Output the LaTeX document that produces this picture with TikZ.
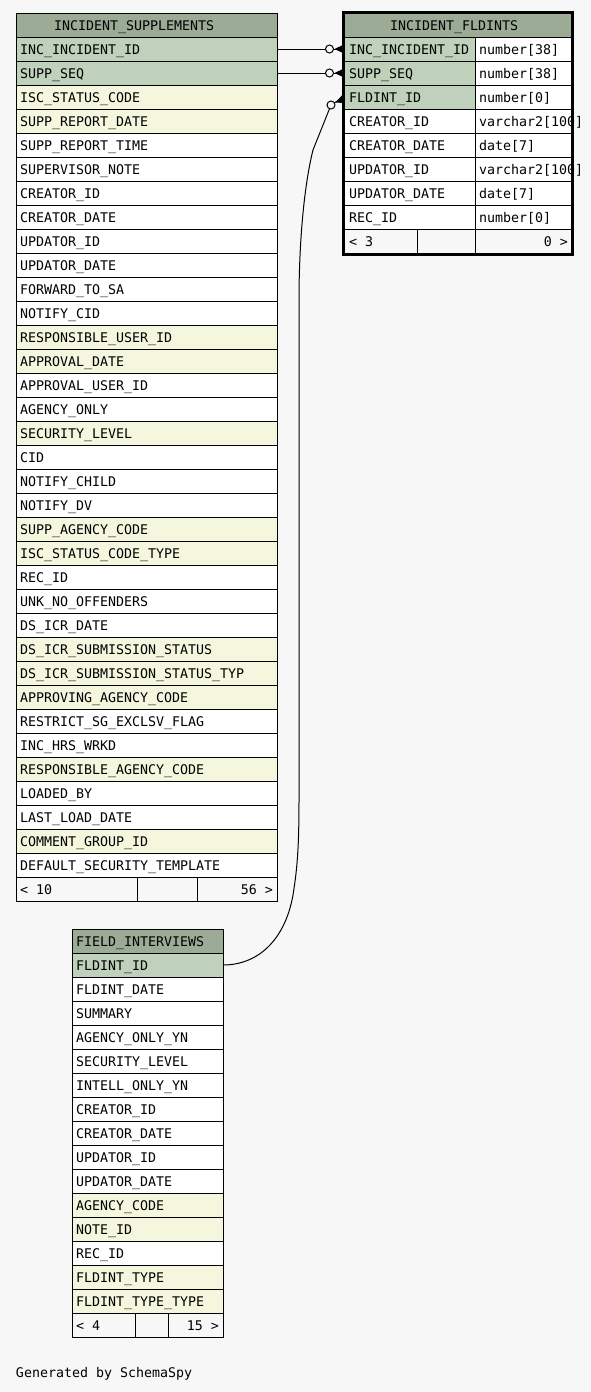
\documentclass[tikz,border=0pt]{standalone}
\usepackage{fontspec}
\newfontfamily\mono{DejaVu Sans Mono}
\usetikzlibrary{calc}
\definecolor{bgc}{RGB}{247,247,247}
\definecolor{hdr}{RGB}{156,171,150}
\definecolor{pk}{RGB}{191,209,187}
\definecolor{fk}{RGB}{244,247,222}
\definecolor{wt}{RGB}{255,255,255}
\tikzset{
  cell/.style={draw=black, line width=1pt, minimum height=24pt, inner sep=0pt, outer sep=0pt, anchor=north west},
  txt/.style={font={\mono\fontsize{13.3}{16}\selectfont}, anchor=base west, inner sep=0pt, outer sep=0pt},
  txtr/.style={txt, anchor=base east},
  circ/.style={circle, draw=black, fill=bgc, line width=1pt, minimum size=8pt, inner sep=0pt, outer sep=0pt},
  conn/.style={draw=black, line width=1pt},
}
\begin{document}
\begin{tikzpicture}[x=1pt,y=-1pt]
\fill[bgc] (0,0) rectangle (591,1392);
\useasboundingbox (0,0) rectangle (591,1392);

% ---------- INCIDENT_SUPPLEMENTS ----------
\node[cell, fill=hdr, minimum width=261pt] (sH) at (16,13) {};
\node[txt] at (54,30) {INCIDENT\_SUPPLEMENTS};
\foreach \t/\c [count=\i from 0] in {
 INC\_INCIDENT\_ID/pk, SUPP\_SEQ/pk, ISC\_STATUS\_CODE/fk, SUPP\_REPORT\_DATE/fk,
 SUPP\_REPORT\_TIME/wt, SUPERVISOR\_NOTE/wt, CREATOR\_ID/wt, CREATOR\_DATE/wt,
 UPDATOR\_ID/wt, UPDATOR\_DATE/wt, FORWARD\_TO\_SA/wt, NOTIFY\_CID/wt,
 RESPONSIBLE\_USER\_ID/fk, APPROVAL\_DATE/fk, APPROVAL\_USER\_ID/wt, AGENCY\_ONLY/wt,
 SECURITY\_LEVEL/fk, CID/wt, NOTIFY\_CHILD/wt, NOTIFY\_DV/wt,
 SUPP\_AGENCY\_CODE/fk, ISC\_STATUS\_CODE\_TYPE/fk, REC\_ID/wt, UNK\_NO\_OFFENDERS/wt,
 DS\_ICR\_DATE/wt, DS\_ICR\_SUBMISSION\_STATUS/fk, DS\_ICR\_SUBMISSION\_STATUS\_TYP/fk,
 APPROVING\_AGENCY\_CODE/fk, RESTRICT\_SG\_EXCLSV\_FLAG/wt, INC\_HRS\_WRKD/wt,
 RESPONSIBLE\_AGENCY\_CODE/fk, LOADED\_BY/wt, LAST\_LOAD\_DATE/wt, COMMENT\_GROUP\_ID/fk,
 DEFAULT\_SECURITY\_TEMPLATE/wt}{
  \node[cell, fill=\c, minimum width=261pt] (s\i) at (16,37+24*\i) {};
  \node[txt] at ($(s\i.west)+(4,5)$) {\t};
}
\node[cell, fill=bgc, minimum width=121pt] (sF1) at (16,877) {};
\node[cell, fill=bgc, minimum width=60pt] (sF2) at (137,877) {};
\node[cell, fill=bgc, minimum width=80pt] (sF3) at (197,877) {};
\node[txt] at ($(sF1.west)+(4,5)$) {< 10};
\node[txtr] at ($(sF3.east)+(-4,5)$) {56 >};

% ---------- INCIDENT_FLDINTS ----------
\node[cell, fill=hdr, minimum width=228pt] (fH) at (344,13) {};
\node[txt] at (390,30) {INCIDENT\_FLDINTS};
\foreach \t/\ty/\c [count=\i from 0] in {
 INC\_INCIDENT\_ID/{number[38]}/pk, SUPP\_SEQ/{number[38]}/pk, FLDINT\_ID/{number[0]}/pk,
 CREATOR\_ID/{varchar2[100]}/wt, CREATOR\_DATE/{date[7]}/wt, UPDATOR\_ID/{varchar2[100]}/wt,
 UPDATOR\_DATE/{date[7]}/wt, REC\_ID/{number[0]}/wt}{
  \node[cell, fill=\c, minimum width=131pt] (f\i) at (344,37+24*\i) {};
  \node[cell, fill=wt, minimum width=97pt] (t\i) at (475,37+24*\i) {};
  \node[txt] at ($(f\i.west)+(5,5)$) {\t};
  \node[txt] at ($(t\i.west)+(4,5)$) {\ty};
}
\node[cell, fill=bgc, minimum width=73pt] (fF1) at (344,229) {};
\node[cell, fill=bgc, minimum width=58pt] (fF2) at (417,229) {};
\node[cell, fill=bgc, minimum width=97pt] (fF3) at (475,229) {};
\node[txt] at ($(fF1.west)+(5,5)$) {< 3};
\node[txtr] at ($(fF3.east)+(-4,5)$) {0 >};
\draw[line width=3pt] (343.5,12.5) rectangle (572,254);

% ---------- FIELD_INTERVIEWS ----------
\node[cell, fill=hdr, minimum width=151pt] (iH) at (72,929) {};
\node[txt] at ($(iH.west)+(4,5)$) {FIELD\_INTERVIEWS};
\foreach \t/\c [count=\i from 0] in {
 FLDINT\_ID/pk, FLDINT\_DATE/wt, SUMMARY/wt, AGENCY\_ONLY\_YN/wt, SECURITY\_LEVEL/wt,
 INTELL\_ONLY\_YN/wt, CREATOR\_ID/wt, CREATOR\_DATE/wt, UPDATOR\_ID/wt, UPDATOR\_DATE/wt,
 AGENCY\_CODE/fk, NOTE\_ID/fk, REC\_ID/wt, FLDINT\_TYPE/fk, FLDINT\_TYPE\_TYPE/fk}{
  \node[cell, fill=\c, minimum width=151pt] (i\i) at (72,953+24*\i) {};
  \node[txt] at ($(i\i.west)+(4,5)$) {\t};
}
\node[cell, fill=bgc, minimum width=63pt] (iF1) at (72,1313) {};
\node[cell, fill=bgc, minimum width=33pt] (iF2) at (135,1313) {};
\node[cell, fill=bgc, minimum width=55pt] (iF3) at (168,1313) {};
\node[txt] at ($(iF1.west)+(4,5)$) {< 4};
\node[txtr] at ($(iF3.east)+(-4,5)$) {15 >};

% ---------- connectors ----------
\node[circ] (k1) at (329.5,49) {};
\node[circ] (k2) at (329.5,73) {};
\node[circ] (k3) at (331,105) {};
\draw[conn] (s0.east) -- (k1.west);
\draw[conn] (s1.east) -- (k2.west);
\draw[conn] (k1.east) -- (f0.west);
\draw[conn] (k2.east) -- (f1.west);
\fill ($(k1.east)+(1,0)$) -- ($(f0.west)+(0,-4.5)$) -- ($(f0.west)+(0,4.5)$) -- cycle;
\fill ($(k2.east)+(1,0)$) -- ($(f1.west)+(0,-4.5)$) -- ($(f1.west)+(0,4.5)$) -- cycle;
\draw[conn] (i0.east) .. controls (258,965) and (285,940) .. (293,895)
  .. controls (297,870) and (299,850) .. (299,800) -- (299,300)
  .. controls (299,250) and (303,190) .. (313,150) -- (k3);
\draw[conn] (k3) -- (f2.west);
\fill (335.5,102.5) -- ($(f2.west)+(0,-4)$) -- ($(f2.west)+(0,6)$) -- cycle;

\node[txt] (gen) at (16,1377) {Generated by SchemaSpy};
\end{tikzpicture}
\end{document}
